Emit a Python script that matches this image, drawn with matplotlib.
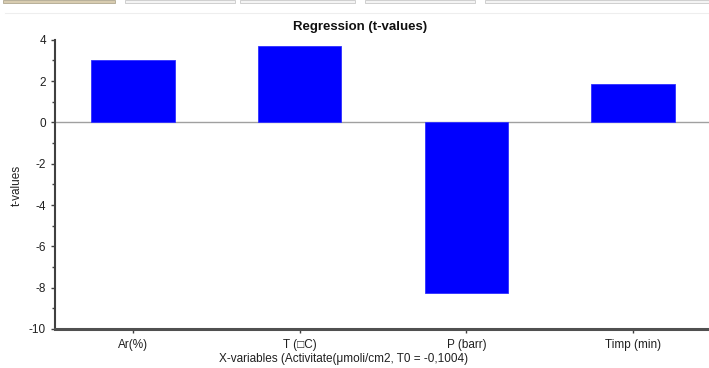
import matplotlib
matplotlib.use('Agg')
import matplotlib.pyplot as plt
from matplotlib.patches import Rectangle
from matplotlib.ticker import MultipleLocator
import numpy as np

# regression t-values per X-variable
variables = ['Ar(%)', 'T (\u25a1C)', 'P (barr)', 'Timp (min)']
t_values = [3.0, 3.7, -8.25, 1.85]

plt.rcParams['font.family'] = ['Liberation Sans', 'DejaVu Sans']
plt.rcParams['axes.unicode_minus'] = False

fig = plt.figure(figsize=(7.09, 3.68), dpi=100)
ax = fig.add_axes([0.0776, 0.106, 0.9224, 0.786])

pos = np.arange(1, len(variables) + 1)
ax.bar(pos, t_values, width=0.5, color='#0000ff', edgecolor='#3030ff', linewidth=0.6, zorder=3)
ax.axhline(0, color='#a0a0a0', lw=1.0, zorder=2)

ax.set_xlim(0.532, 4.456)
ax.set_ylim(-10, 4)
ax.set_xticks(pos)
ax.set_xticklabels(variables, fontsize=8.5, color='#202020')
ax.yaxis.set_major_locator(MultipleLocator(2))
ax.yaxis.set_minor_locator(MultipleLocator(1))
ax.tick_params(axis='y', which='major', labelsize=8.5, labelcolor='#202020',
               length=3, width=1, color='#404040')
ax.tick_params(axis='y', which='minor', length=2, width=1, color='#404040')
ax.tick_params(axis='x', length=3, width=1, color='#404040', pad=4)

for side in ['top', 'right']:
    ax.spines[side].set_visible(False)
ax.spines['left'].set_color('#404040')
ax.spines['left'].set_linewidth(1.5)
ax.spines['bottom'].set_color('#505050')
ax.spines['bottom'].set_linewidth(2.2)

fig.text(17 / 709, 1 - 185 / 368, 't-values', rotation=90, fontsize=8.5,
         ha='center', va='center', color='#202020')
fig.text(360 / 709, 1 - 27 / 368, 'Regression (t-values)', fontsize=9.5,
         fontweight='bold', ha='center', va='center', color='#101010')
fig.text(344 / 709, 1 - 359 / 368, 'X-variables (Activitate(\u03bcmoli/cm2, T0 = -0,1004)',
         fontsize=8.5, ha='center', va='center', color='#202020')

# window tab strip along the top edge
fig.add_artist(Rectangle((3 / 709, 1 - 3 / 368), 112 / 709, 3 / 368,
                         transform=fig.transFigure, facecolor='#d8ccb0', edgecolor='#b0a890', lw=0.6))
for x0, x1 in [(125, 235), (240, 355), (365, 475), (485, 709)]:
    fig.add_artist(Rectangle((x0 / 709, 1 - 3 / 368), (x1 - x0) / 709, 3 / 368,
                             transform=fig.transFigure, facecolor='#f4f4f4', edgecolor='#c8c8c8', lw=0.6))
fig.add_artist(plt.Line2D([5 / 709, 1], [1 - 13 / 368] * 2, transform=fig.transFigure,
                          color='#eeeeee', lw=0.8))

fig.savefig('out.png', dpi=100)
